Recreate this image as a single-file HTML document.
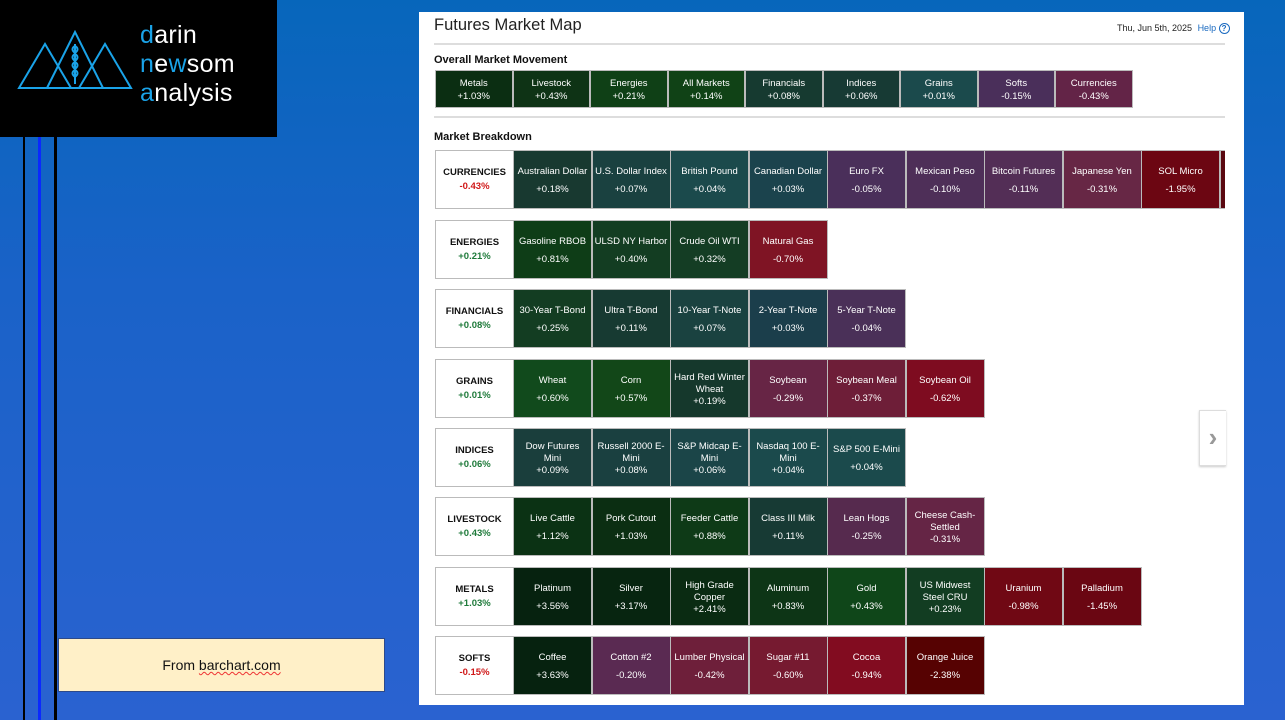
<!DOCTYPE html>
<html><head><meta charset="utf-8"><style>
*{box-sizing:border-box;margin:0;padding:0}
body{width:1285px;height:720px;overflow:hidden;position:relative;font-family:"Liberation Sans",sans-serif;background:linear-gradient(180deg,#0766bb 0%,#1a62c8 40%,#2a62d0 100%)}
.abs{position:absolute}
.vl{position:absolute;top:137px;height:583px}
#logo{left:0;top:0;width:277px;height:137px;background:#000}
#logo .t{position:absolute;left:140px;font-size:25px;color:#fff;letter-spacing:0.3px;line-height:25px}
#logo .t b{color:#1aa3e8;font-weight:normal}
#note{left:58px;top:638px;width:327px;height:54px;background:#fff0c8;border:1px solid #2d4a8a;font-size:14px;text-align:center;line-height:52px;color:#111}
#note u{text-decoration:underline wavy #e33;text-decoration-thickness:1px}
#panel{left:419px;top:12px;width:825px;height:693px;background:#fff}
.hl{position:absolute;left:15px;width:791px;height:2px;background:#ddd}
.title{position:absolute;left:15px;top:4px;font-size:16.5px;color:#222}
.h2{position:absolute;left:15px;font-size:11px;font-weight:bold;color:#111}
.tile{position:absolute;border:1px solid #bbb;color:#fff;font-size:9.5px;text-align:center;display:flex;flex-direction:column;justify-content:center;line-height:12px;padding:3px 4px 0}
.ov{height:38px;width:77.5px;line-height:13px;padding:1px 2px 0}
.br{height:59px;width:79px}
.br .v{margin-top:6px}
.br.t2 .v{margin-top:0}
.lab{background:#fff;color:#111;font-weight:bold;font-size:9.5px;padding:0}
.lab .v{margin-top:2px}
.g{color:#1e7a3a}.r{color:#d01818}
</style></head><body>
<div class="abs" id="logo">
<svg class="abs" style="left:16px;top:30px" width="120" height="60" viewBox="0 0 118 60">
<g fill="none" stroke="#1aa3e8" stroke-width="2">
<polygon points="2,58 28,14 54,58"/><polygon points="30,58 58,2 86,58"/><polygon points="62,58 88,14 114,58"/>
<line x1="58" y1="14" x2="58" y2="54"/>
<path d="M58,16 q-5,3 0,7 q5,-4 0,-7 M58,24 q-5,3 0,7 q5,-4 0,-7 M58,32 q-5,3 0,7 q5,-4 0,-7 M58,40 q-5,3 0,7 q5,-4 0,-7"/>
</g></svg>
<div class="t" style="top:23px"><b>d</b>arin</div>
<div class="t" style="top:52px"><b>n</b>e<b>w</b>som</div>
<div class="t" style="top:81px"><b>a</b>nalysis</div>
</div>
<div class="vl" style="left:23px;width:2px;background:#000"></div>
<div class="vl" style="left:38px;width:3px;background:#0a28ff"></div>
<div class="vl" style="left:54px;width:3px;background:#000"></div>
<div class="abs" id="note">From <u>barchart.com</u></div>

<div class="abs" id="panel">
<div class="title">Futures Market Map</div>
<div class="abs" style="left:698px;top:11px;font-size:9px;color:#222">Thu, Jun 5th, 2025 <span style="color:#1a6ac0;margin-left:3px">Help</span> <span style="display:inline-block;width:11px;height:11px;border:1.3px solid #1a6ac0;border-radius:50%;color:#1a6ac0;font-size:8px;line-height:9px;text-align:center;font-weight:bold">?</span></div>
<div class="hl" style="top:31px"></div>
<div class="h2" style="top:42px">Overall Market Movement</div>
<div class="hl" style="top:104px"></div>
<div class="h2" style="top:119px">Market Breakdown</div>
<div class="abs" style="left:780px;top:398px;width:27px;height:56px;border:1px solid #ddd;border-right:none;box-shadow:0 1px 2px #ccc;color:#999;font-size:26px;font-weight:bold;line-height:52px;text-align:center;background:#fff">&#x203A;</div>

<!-- overall -->
<div class="tile ov" style="left:16px;top:58px;background:#0b2e12">Metals<br>+1.03%</div>
<div class="tile ov" style="left:93.5px;top:58px;background:#0e3315">Livestock<br>+0.43%</div>
<div class="tile ov" style="left:171px;top:58px;background:#0f4016">Energies<br>+0.21%</div>
<div class="tile ov" style="left:248.5px;top:58px;background:#104216">All Markets<br>+0.14%</div>
<div class="tile ov" style="left:326px;top:58px;background:#163a30">Financials<br>+0.08%</div>
<div class="tile ov" style="left:403.5px;top:58px;background:#173a34">Indices<br>+0.06%</div>
<div class="tile ov" style="left:481px;top:58px;background:#1b4a4c">Grains<br>+0.01%</div>
<div class="tile ov" style="left:558.5px;top:58px;background:#4a2f5a">Softs<br>-0.15%</div>
<div class="tile ov" style="left:636px;top:58px;background:#632447">Currencies<br>-0.43%</div>

<div style="position:absolute;left:0;top:0;width:806px;height:693px;overflow:hidden">
<div class="tile br lab" style="left:16px;top:138px;width:79px">CURRENCIES<div class="v r">-0.43%</div></div>
<div class="tile br" style="left:94px;top:138px;background:#183930;padding:3px 0 0">Australian Dollar<div class="v">+0.18%</div></div>
<div class="tile br" style="left:172.5px;top:138px;background:#1a4140;padding:3px 0 0">U.S. Dollar Index<div class="v">+0.07%</div></div>
<div class="tile br" style="left:251px;top:138px;background:#1b4a4c">British Pound<div class="v">+0.04%</div></div>
<div class="tile br" style="left:329.5px;top:138px;background:#1b434d;padding:3px 0 0">Canadian Dollar<div class="v">+0.03%</div></div>
<div class="tile br" style="left:408px;top:138px;background:#4a2f5a">Euro FX<div class="v">-0.05%</div></div>
<div class="tile br" style="left:486.5px;top:138px;background:#4e2f58">Mexican Peso<div class="v">-0.10%</div></div>
<div class="tile br" style="left:565px;top:138px;background:#532e56;padding:3px 0 0">Bitcoin Futures<div class="v">-0.11%</div></div>
<div class="tile br" style="left:643.5px;top:138px;background:#672745">Japanese Yen<div class="v">-0.31%</div></div>
<div class="tile br" style="left:722px;top:138px;background:#6c0612">SOL Micro<div class="v">-1.95%</div></div>
<div class="tile br" style="left:800.5px;top:138px;background:#5a0810"></div>
<div class="tile br lab" style="left:16px;top:208px">ENERGIES<div class="v g">+0.21%</div></div>
<div class="tile br" style="left:94px;top:208px;background:#0e3d17;padding:3px 0 0">Gasoline RBOB<div class="v">+0.81%</div></div>
<div class="tile br" style="left:172.5px;top:208px;background:#133d22;padding:3px 0 0">ULSD NY Harbor<div class="v">+0.40%</div></div>
<div class="tile br" style="left:251px;top:208px;background:#143d24">Crude Oil WTI<div class="v">+0.32%</div></div>
<div class="tile br" style="left:329.5px;top:208px;background:#7f1424">Natural Gas<div class="v">-0.70%</div></div>
<div class="tile br lab" style="left:16px;top:277px">FINANCIALS<div class="v g">+0.08%</div></div>
<div class="tile br" style="left:94px;top:277px;background:#133d22;padding:3px 0 0">30-Year T-Bond<div class="v">+0.25%</div></div>
<div class="tile br" style="left:172.5px;top:277px;background:#173a32">Ultra T-Bond<div class="v">+0.11%</div></div>
<div class="tile br" style="left:251px;top:277px;background:#1a4240;padding:3px 0 0">10-Year T-Note<div class="v">+0.07%</div></div>
<div class="tile br" style="left:329.5px;top:277px;background:#1b3e4b">2-Year T-Note<div class="v">+0.03%</div></div>
<div class="tile br" style="left:408px;top:277px;background:#4a3058">5-Year T-Note<div class="v">-0.04%</div></div>
<div class="tile br lab" style="left:16px;top:347px">GRAINS<div class="v g">+0.01%</div></div>
<div class="tile br" style="left:94px;top:347px;background:#114a1c">Wheat<div class="v">+0.60%</div></div>
<div class="tile br" style="left:172.5px;top:347px;background:#124718">Corn<div class="v">+0.57%</div></div>
<div class="tile br t2" style="left:251px;top:347px;background:#15382c;padding:3px 0 0">Hard Red Winter Wheat<div class="v">+0.19%</div></div>
<div class="tile br" style="left:329.5px;top:347px;background:#672545">Soybean<div class="v">-0.29%</div></div>
<div class="tile br" style="left:408px;top:347px;background:#6e1e38">Soybean Meal<div class="v">-0.37%</div></div>
<div class="tile br" style="left:486.5px;top:347px;background:#7e0c20">Soybean Oil<div class="v">-0.62%</div></div>
<div class="tile br lab" style="left:16px;top:416px">INDICES<div class="v g">+0.06%</div></div>
<div class="tile br t2" style="left:94px;top:416px;background:#1a3e3c;padding:3px 10px 0">Dow Futures Mini<div class="v">+0.09%</div></div>
<div class="tile br t2" style="left:172.5px;top:416px;background:#1a4040">Russell 2000 E-Mini<div class="v">+0.08%</div></div>
<div class="tile br t2" style="left:251px;top:416px;background:#1b4548">S&amp;P Midcap E-Mini<div class="v">+0.06%</div></div>
<div class="tile br t2" style="left:329.5px;top:416px;background:#1b4a4c">Nasdaq 100 E-Mini<div class="v">+0.04%</div></div>
<div class="tile br" style="left:408px;top:416px;background:#1b4a4c;padding:3px 0 0">S&amp;P 500 E-Mini<div class="v">+0.04%</div></div>
<div class="tile br lab" style="left:16px;top:485px">LIVESTOCK<div class="v g">+0.43%</div></div>
<div class="tile br" style="left:94px;top:485px;background:#0b3214">Live Cattle<div class="v">+1.12%</div></div>
<div class="tile br" style="left:172.5px;top:485px;background:#0b2e12">Pork Cutout<div class="v">+1.03%</div></div>
<div class="tile br" style="left:251px;top:485px;background:#0e3a17">Feeder Cattle<div class="v">+0.88%</div></div>
<div class="tile br" style="left:329.5px;top:485px;background:#173a34">Class III Milk<div class="v">+0.11%</div></div>
<div class="tile br" style="left:408px;top:485px;background:#562a4e">Lean Hogs<div class="v">-0.25%</div></div>
<div class="tile br t2" style="left:486.5px;top:485px;background:#652545">Cheese Cash-Settled<div class="v">-0.31%</div></div>
<div class="tile br lab" style="left:16px;top:555px">METALS<div class="v g">+1.03%</div></div>
<div class="tile br" style="left:94px;top:555px;background:#06220f">Platinum<div class="v">+3.56%</div></div>
<div class="tile br" style="left:172.5px;top:555px;background:#072510">Silver<div class="v">+3.17%</div></div>
<div class="tile br t2" style="left:251px;top:555px;background:#0a2b12;padding:3px 12px 0">High Grade Copper<div class="v">+2.41%</div></div>
<div class="tile br" style="left:329.5px;top:555px;background:#0d3516">Aluminum<div class="v">+0.83%</div></div>
<div class="tile br" style="left:408px;top:555px;background:#0f4619">Gold<div class="v">+0.43%</div></div>
<div class="tile br t2" style="left:486.5px;top:555px;background:#123d22;padding:3px 10px 0">US Midwest Steel CRU<div class="v">+0.23%</div></div>
<div class="tile br" style="left:565px;top:555px;background:#700814">Uranium<div class="v">-0.98%</div></div>
<div class="tile br" style="left:643.5px;top:555px;background:#6a0612">Palladium<div class="v">-1.45%</div></div>
<div class="tile br lab" style="left:16px;top:624px">SOFTS<div class="v r">-0.15%</div></div>
<div class="tile br" style="left:94px;top:624px;background:#06220f">Coffee<div class="v">+3.63%</div></div>
<div class="tile br" style="left:172.5px;top:624px;background:#5a2a52">Cotton #2<div class="v">-0.20%</div></div>
<div class="tile br" style="left:251px;top:624px;background:#6e1f3a;padding:3px 0 0">Lumber Physical<div class="v">-0.42%</div></div>
<div class="tile br" style="left:329.5px;top:624px;background:#761a30">Sugar #11<div class="v">-0.60%</div></div>
<div class="tile br" style="left:408px;top:624px;background:#820c20">Cocoa<div class="v">-0.94%</div></div>
<div class="tile br" style="left:486.5px;top:624px;background:#560202">Orange Juice<div class="v">-2.38%</div></div>
</div>
</div>
</body></html>
